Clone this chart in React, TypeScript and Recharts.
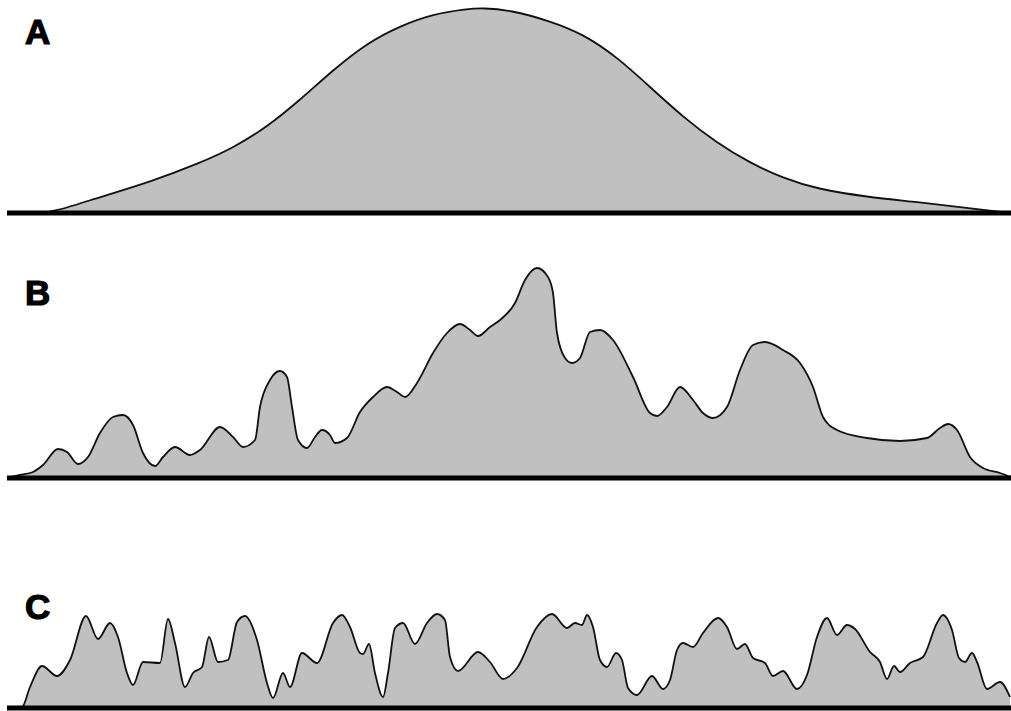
import { Area, AreaChart, ReferenceLine, XAxis, YAxis } from 'recharts';

// positions along the axis (0..1004) and heights above the baseline
const posA = [0, 33, 50, 93, 143, 193, 226, 260, 293, 326, 360, 393, 426, 460, 476, 503, 543, 576, 610, 643, 676, 710, 743, 776, 810, 860, 910, 960, 993, 1004];
const valA = [0, 0, 2, 16, 31, 50, 65, 86, 113, 143, 170, 187, 199, 204, 205, 203, 192, 179, 156, 126, 96, 70, 50, 35, 24, 16, 11, 5, 1, 0];

const posB = [0, 13, 26, 36, 51, 60, 71, 81, 93, 106, 116, 126, 136, 148, 156, 168, 183, 193, 213, 226, 236, 248, 253, 263, 273, 280, 285, 291, 300, 308, 315, 323, 328, 340, 353, 366, 380, 390, 398, 410, 426, 440, 453, 463, 471, 483, 493, 508, 518, 530, 541, 546, 550, 558, 565, 573, 583, 593, 606, 626, 643, 650, 660, 673, 686, 696, 706, 720, 733, 746, 758, 776, 793, 806, 816, 830, 860, 893, 920, 933, 941, 950, 963, 976, 993, 1004];
const valB = [0, 3, 6, 13, 29, 26, 14, 21, 45, 61, 63, 53, 25, 12, 21, 31, 23, 28, 51, 41, 31, 38, 71, 98, 107, 101, 71, 38, 30, 41, 48, 43, 35, 40, 66, 81, 91, 86, 81, 95, 125, 145, 154, 148, 142, 151, 158, 175, 198, 210, 201, 185, 145, 120, 115, 120, 146, 148, 138, 101, 65, 62, 71, 91, 78, 65, 60, 71, 108, 133, 136, 128, 115, 91, 61, 48, 40, 37, 40, 50, 54, 48, 21, 10, 5, 1];

const posC = [0, 15, 23, 35, 50, 63, 79, 91, 103, 111, 120, 126, 136, 153, 161, 168, 178, 186, 195, 202, 211, 221, 230, 238, 250, 260, 266, 276, 283, 295, 310, 326, 335, 343, 353, 356, 362, 368, 376, 381, 388, 396, 408, 420, 430, 438, 443, 451, 471, 483, 496, 510, 530, 545, 560, 568, 575, 580, 586, 593, 600, 609, 615, 621, 630, 645, 656, 663, 670, 676, 686, 696, 711, 720, 730, 738, 746, 758, 766, 776, 790, 800, 810, 820, 830, 840, 848, 863, 873, 880, 887, 893, 903, 916, 930, 936, 945, 952, 958, 965, 970, 980, 993, 1003];
const valC = [0, 1, 21, 42, 32, 48, 92, 69, 85, 71, 35, 23, 46, 45, 89, 65, 21, 35, 41, 71, 46, 48, 86, 92, 68, 25, 10, 35, 21, 55, 45, 85, 93, 81, 55, 54, 64, 35, 11, 35, 80, 85, 64, 85, 94, 88, 51, 37, 56, 46, 29, 40, 81, 94, 80, 85, 83, 93, 81, 48, 41, 55, 48, 20, 13, 32, 19, 28, 58, 65, 61, 75, 90, 81, 59, 64, 50, 45, 32, 37, 19, 33, 71, 90, 73, 83, 79, 56, 46, 29, 42, 36, 45, 51, 85, 93, 78, 50, 46, 55, 46, 19, 26, 11];

const panelLabels = ['A', 'B', 'C'];

const toRows = (pos: number[], val: number[]) => pos.map((x, i) => ({ x, v: val[i] }));

const panels = [
  { key: 'A', rows: toRows(posA, valA), top: 0, height: 220, bottom: 7, max: 213, curve: 'basis' as const },
  { key: 'B', rows: toRows(posB, valB), top: 230, height: 255, bottom: 7, max: 248, curve: 'monotone' as const },
  { key: 'C', rows: toRows(posC, valC), top: 560, height: 151, bottom: 3, max: 148, curve: 'monotone' as const },
];

const labelY = [44, 305, 619];

export default function App() {
  return (
    <div style={{ position: 'absolute', left: 0, top: 0, width: 1011, height: 711, background: '#fff', overflow: 'hidden' }}>
      {panels.map((p) => (
        <div key={p.key} style={{ position: 'absolute', left: 0, top: p.top }}>
          <AreaChart width={1011} height={p.height} data={p.rows} margin={{ top: 0, right: 0, bottom: p.bottom, left: 7 }}>
            <XAxis type="number" dataKey="x" domain={[0, 1004]} hide />
            <YAxis type="number" domain={[0, p.max]} hide />
            <Area
              type={p.curve}
              dataKey="v"
              stroke="#111"
              strokeWidth={1.8}
              fill="#c0c0c0"
              fillOpacity={1}
              isAnimationActive={false}
              dot={false}
              activeDot={false}
            />
            <ReferenceLine y={0} stroke="#000" strokeWidth={5} ifOverflow="visible" />
          </AreaChart>
        </div>
      ))}
      <svg width={1011} height={711} style={{ position: 'absolute', left: 0, top: 0, pointerEvents: 'none' }}>
        {panelLabels.map((t, i) => (
          <text
            key={t}
            x={25}
            y={labelY[i]}
            fontFamily="'Liberation Sans', Arial, sans-serif"
            fontWeight="bold"
            fontSize={35}
            fill="#000"
            stroke="#000"
            strokeWidth={1.2}
          >
            {t}
          </text>
        ))}
      </svg>
    </div>
  );
}
